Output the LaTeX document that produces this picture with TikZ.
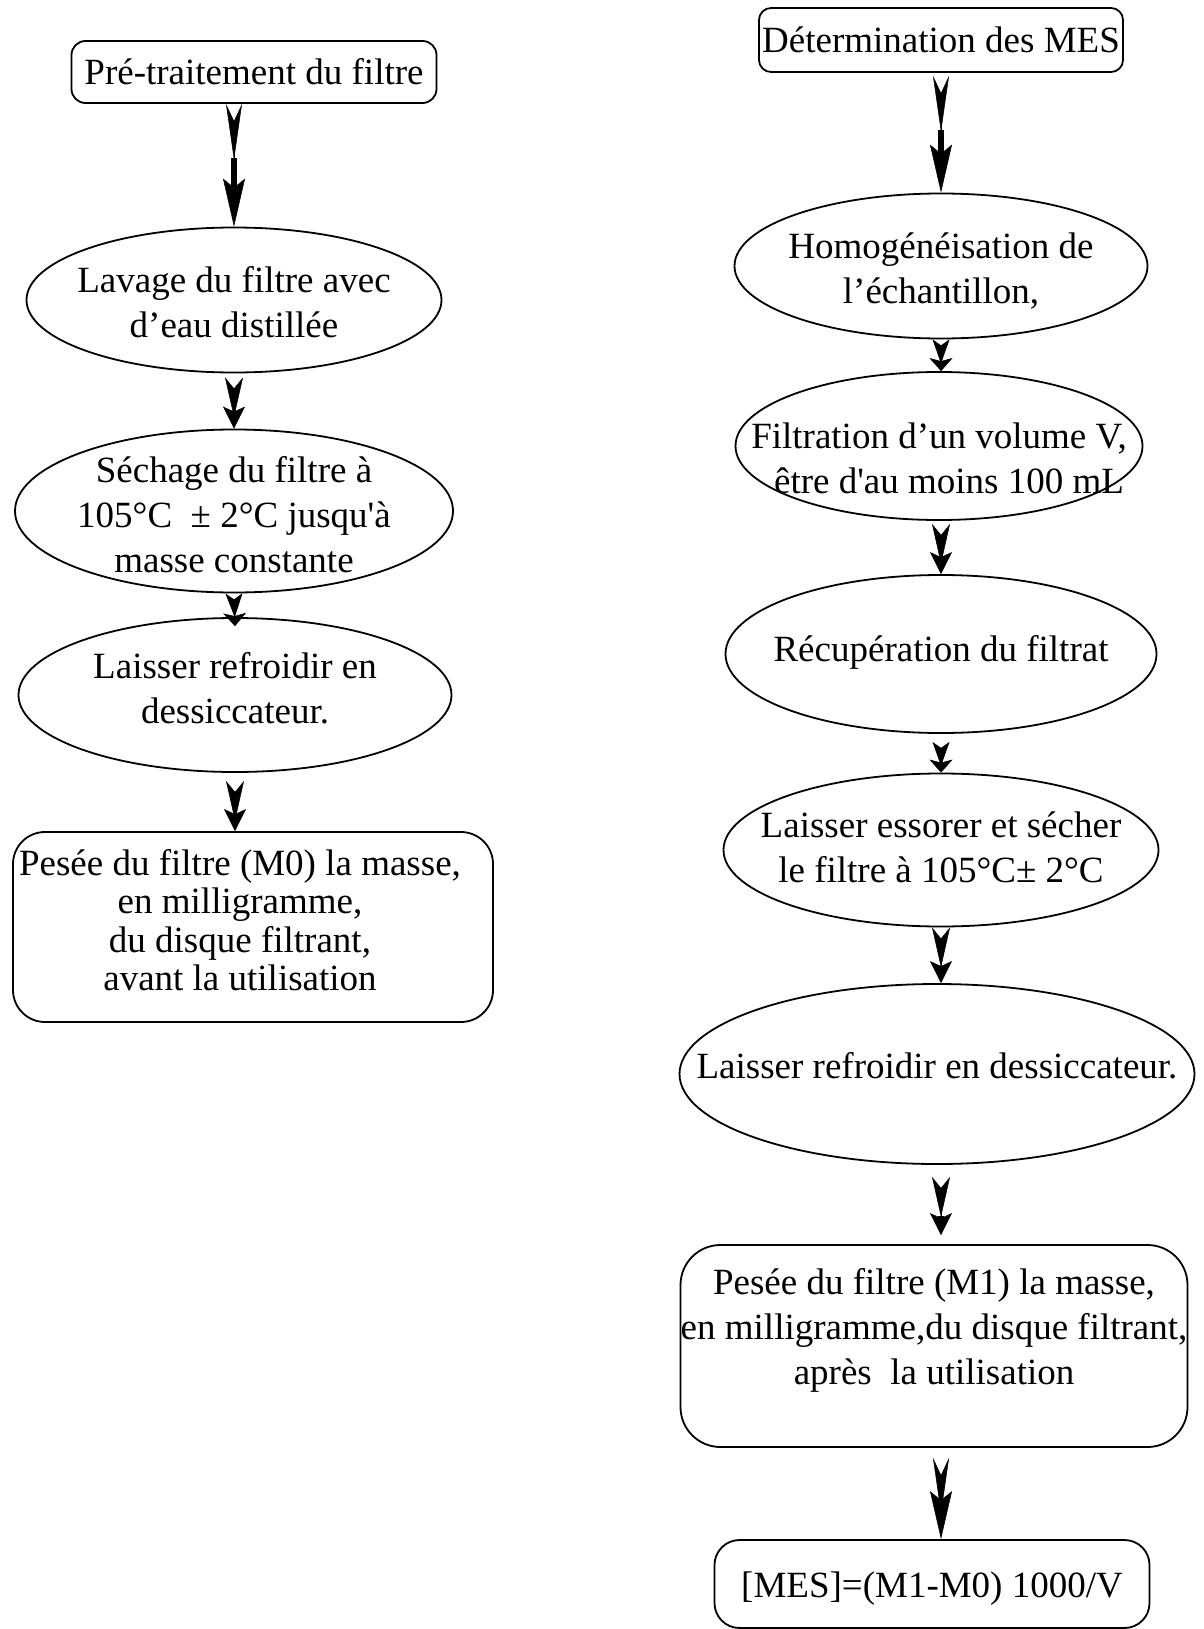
\documentclass[tikz,border=0pt]{standalone}
\usepackage{fontspec}
\setmainfont{Liberation Serif}[Ligatures=TeXOff]
\usetikzlibrary{calc,shapes.geometric,arrows.meta}

\tikzset{
	stepbox/.style={draw, line width=1.8pt, rounded corners=#1, inner sep=0pt},
	stepell/.style={draw, ellipse, line width=1.8pt, inner sep=0pt},
	txt/.style={font=\fontsize{37pt}{45pt}\selectfont, align=center, inner sep=0pt},
	flowlong/.style={line width=6pt, preaction={draw, arrows=-, shorten <=17pt, shorten >=20pt},
		arrows={Stealth[reversed,length=56pt,width=16pt,inset=17pt,line width=0.5pt]-Stealth[length=48pt,width=22pt,inset=9pt,line width=0.5pt]}},
	flowmid/.style={line width=6pt, preaction={draw, arrows=-, shorten <=11pt, shorten >=10pt},
		arrows={Stealth[reversed,length=40pt,width=18pt,inset=11pt,line width=0.5pt]-Stealth[length=22pt,width=22pt,inset=5pt,line width=0.5pt]}},
	flowshort/.style={line width=6pt, preaction={draw, arrows=-, shorten <=6pt, shorten >=6pt},
		arrows={Stealth[reversed,length=24pt,width=17pt,inset=6pt,line width=0.5pt]-Stealth[length=13pt,width=23pt,inset=3pt,line width=0.5pt]}}
}

\begin{document}
\begin{tikzpicture}[x=1pt,y=-1pt]
		%%%%% START %%%%%
		\useasboundingbox (0,0) rectangle (1203,1629);
		
		% left column
		\node[stepbox=14pt, minimum width=365pt, minimum height=62pt, label={[txt,name=pretxt]center:{Pré-traitement du filtre}}] (pre) at (254,72) {};
		\node[stepell, minimum width=415pt, minimum height=145pt, label={[txt,name=lavtxt,yshift=-2pt]center:{Lavage du filtre avec\\ d’eau distillée}}] (lav) at (234,300) {};
		\node[stepell, minimum width=438pt, minimum height=163pt, label={[txt,name=sechtxt,yshift=-4pt]center:{Séchage du filtre à\\ 105°C~~± 2°C jusqu'à\\ masse constante}}] (sech) at (234,511) {};
		\node[stepell, minimum width=433pt, minimum height=154pt, label={[txt,name=refrtxt,yshift=7pt]center:{Laisser refroidir en\\ dessiccateur.}}] (refr) at (235,695) {};
		\node[stepbox=32pt, minimum width=480pt, minimum height=190pt, label={[txt,name=mzerotxt,font=\fontsize{37pt}{38.5pt}\selectfont,xshift=-13pt,yshift=7pt]center:{Pesée du filtre (M0) la masse,\\ en milligramme,\\ du disque filtrant,\\ avant la utilisation}}] (mzero) at (253,927) {};
		
		\draw[flowlong] (pre.south -| lav.north) -- (lav.north);
		\draw[flowmid] ($(lav.south)+(0,4)$) -- (sech.north);
		\draw[flowshort] (sech.south) -- ($(refr.north)+(0,9)$);
		\draw[flowmid] ($(refr.south)+(0,8)$) -- (refr.south |- mzero.north);
		
		% right column
		\node[stepbox=12pt, minimum width=364pt, minimum height=64pt, label={[txt,name=dettxt]center:{Détermination des MES}}] (det) at (941,40) {};
		\node[stepell, minimum width=413pt, minimum height=145pt, label={[txt,name=homtxt,yshift=-5pt]center:{Homogénéisation de\\ l’échantillon,}}] (hom) at (941,266) {};
		\node[stepell, minimum width=407pt, minimum height=148pt, label={[txt,name=filtxt,yshift=-12pt]center:{Filtration d’un volume V,\\ \hspace{20pt}être d'au moins 100 mL}}] (fil) at (939,446) {};
		\node[stepell, minimum width=431pt, minimum height=158pt, label={[txt,name=rectxt,yshift=2pt]center:{Récupération du filtrat}}] (rec) at (941,654) {};
		\node[stepell, minimum width=435pt, minimum height=153pt, label={[txt,name=esstxt,yshift=3pt]center:{Laisser essorer et sécher\\ le filtre à 105°C± 2°C}}] (ess) at (941,850) {};
		\node[stepell, minimum width=515pt, minimum height=180pt, label={[txt,name=reftxt,yshift=8pt]center:{Laisser refroidir en dessiccateur.}}] (ref) at (937,1074) {};
		\node[stepbox=40pt, minimum width=507pt, minimum height=202pt, label={[txt,name=monetxt,yshift=16pt]center:{Pesée du filtre (M1) la masse,\\ en milligramme,du disque filtrant,\\ après~ la utilisation}}] (mone) at (934,1346) {};
		\node[stepbox=25pt, minimum width=435pt, minimum height=88pt, label={[txt,name=mestxt,yshift=-5pt]center:{[MES]=(M1-M0) 1000/V}}] (mes) at (932,1584) {};
		
		\draw[flowlong] ($(det.south)+(0,3)$) -- (hom.north);
		\draw[flowshort] (hom.south) -- (fil.north -| hom.south);
		\draw[flowmid] ($(fil.south -| det.south)+(0,3)$) -- (rec.north);
		\draw[flowshort] ($(rec.south)+(0,8)$) -- (ess.north);
		\draw[flowmid] (ess.south) -- (ess.south |- ref.north);
		\draw[flowmid] ($(ref.south -| det.south)+(0,12)$) -- ($(mone.north -| det.south)+(0,-9)$);
		\draw[flowlong] ($(mone.south -| det.south)+(0,10)$) -- (mes.north -| det.south);
		
		%%%%% END %%%%%
\end{tikzpicture}
\end{document}
